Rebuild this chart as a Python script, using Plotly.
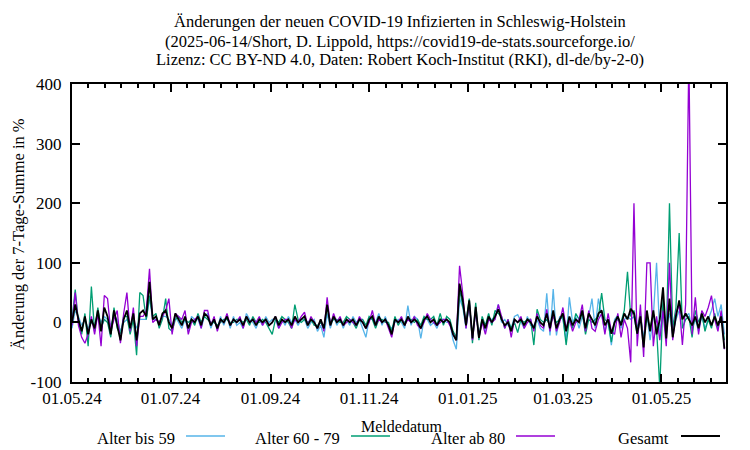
import pandas as pd
import plotly.graph_objects as go

# ---- data: change of 7-day sum in %, every 2nd day starting 2024-05-01 ----
start_date = "2024-05-01"
step = "2D"

gesamt = [
    0, 30, 5, -15, 10, -20, 5, -10, 20, -15,
    25, 10, -20, 20, -5, -30, 5, 20, -10, 15,
    -30, 15, 20, 10, 68, 5, 10, -5, 15, 20,
    0, -10, 15, 5, -5, 10, -10, 5, 0, 10,
    -5, 15, 10, -5, 5, -10, 5, 0, 10, -5,
    5, 0, 5, -5, 10, 0, 5, -5, 5, 0,
    5, -5, 0, 10, -5, 5, 0, 5, -5, 10,
    0, 5, 10, -5, 5, 0, -10, 5, -10, 30,
    -5, 10, 0, 5, -5, 5, 0, 5, -5, 5,
    0, -10, 5, 10, -5, 10, 0, 5, -5, -20,
    5, 0, 5, -5, 10, 0, 5, 0, -10, 5,
    10, 0, 5, -5, 5, 0, 5, 0, -20, -30,
    65, 37, -5, 37, -27, 26, -26, 5, -10, 10,
    0, 10, 22, 5, -5, 0, -15, 5, 0, 5,
    -5, 5, 0, -10, 10, 0, -5, 15, -10, 20,
    -10, 5, 15, -15, 10, -5, 5, 0, 20, -10,
    15, 5, -5, 15, 20, -5, 5, -19, 0, 10,
    -5, 15, 5, 23, 15, -19, 10, -42, 20, -15,
    20, -20, 5, 59, -27, 40, -25, 10, 37, 5,
    15, 5, -5, 10, -10, 15, 0, 10, -5, 10,
    -5, 10, -44,
]

alter_bis_59 = [
    -10, 20, 10, -5, 5, -10, 0, -5, 15, 0,
    10, 5, -5, 10, 5, -15, 0, 5, -5, 5,
    -10, 5, 5, 5, 40, 5, 5, 0, 10, 10,
    5, -5, 10, 0, -10, 5, -15, 10, 5, 5,
    -10, 10, 15, -10, 5, -10, 10, -5, 10, -10,
    10, -5, 0, -10, 15, 5, 0, -10, 5, -5,
    10, 0, 5, 5, -10, 5, -5, 10, 0, 5,
    -5, 5, 5, -10, 0, 5, -15, -5, -25, 15,
    -10, 10, -5, 5, -10, 5, -5, 10, 0, 5,
    -10, -25, 5, 5, 0, 15, -5, 10, -5, -10,
    0, 5, 0, -10, 28, -5, 10, 5, -27, 5,
    5, -5, 0, -10, 5, 5, 0, 0, -30, -45,
    40, 25, -10, 30, -20, 15, -20, 5, -15, 5,
    5, 10, 30, 0, 5, -5, -10, 10, 13, 0,
    -10, 10, -5, -5, 5, -10, -15, 49, -22, 56,
    -22, 10, 5, -30, 42, 0, 10, -10, 10, -5,
    10, 40, -10, 40, 10, -15, 5, -38, 5, 12,
    -10, 5, 10, 5, 10, -20, 5, -25, 15, -30,
    10, 100, -20, 30, -10, 15, -20, 5, 20, 10,
    10, 15, -10, 5, -15, 10, -10, 5, 20, 40,
    10, 30, -20,
]

alter_60_79 = [
    5, 55, 0, -20, 15, -40, 60, -15, 25, -10,
    5, 0, -25, 25, -10, -20, 10, 10, -20, 5,
    -55, 50, 45, 5, 45, 10, 15, -10, 5, 40,
    -10, -15, 5, 10, 0, 5, 0, 5, -5, 15,
    0, 10, 5, 0, 0, -5, 0, 5, 5, 0,
    0, 5, 5, 0, 5, -5, 10, 0, 0, 5,
    0, -10, -20, 5, 0, 10, 5, 0, -10, 30,
    5, 0, 5, 0, 5, -5, -5, 0, -10, 25,
    0, 5, 5, 0, 0, 10, 5, 0, -10, 5,
    5, -5, 10, 5, -10, 5, 5, 0, 0, -15,
    10, -5, 5, 0, 5, 5, 0, 5, -5, 10,
    5, 5, 10, -5, 15, -5, 10, 5, -15, -25,
    55, 30, 0, 40, -35, 33, -30, 10, -5, 15,
    -5, 20, 15, 10, -10, 5, -10, 0, -17, 5,
    0, 5, 5, -38, 22, 5, 0, 5, -5, 10,
    0, 5, 10, -38, 5, -10, 15, 5, 15, -20,
    5, 0, 5, 10, 49, 5, 0, -33, 0, 5,
    0, 20, 85, 10, 20, -10, 15, -30, 10, -10,
    15, -10, -110, 40, -30, 200, -10, 25, 150, -10,
    5, 10, -25, 20, 0, 15, -15, 5, -10, 15,
    -10, 15, -30,
]

alter_ab_80 = [
    -5, 50, -5, -25, -35, -20, 10, -20, 15, -40,
    45, 40, -15, 5, 20, -35, 15, 50, -15, 25,
    -40, 10, 10, 20, 90, 0, 5, 0, 10, 20,
    40, -20, 15, 10, 5, 20, -20, 0, 5, 10,
    -10, 20, 20, -5, 10, -15, 5, 0, 15, -5,
    5, 0, 10, -10, 10, 0, 5, 0, 10, -5,
    5, -5, 0, 10, -10, 0, 5, 5, -10, 5,
    0, 10, 17, -5, 10, 0, -10, 5, -15, 42,
    -5, 15, 0, 10, -5, 0, 5, 0, -5, 10,
    0, -10, 0, 20, -5, 5, 0, 5, -10, -25,
    5, 0, 10, -5, 5, 0, 10, -5, -10, 0,
    15, 5, 0, -5, 0, 5, 5, -5, -20, -30,
    95, 48, -10, 35, -30, 20, -25, 0, -20, 5,
    0, 5, 30, 10, -10, 5, -25, 5, 0, 10,
    -10, 0, 5, -15, 15, -5, -10, 22, -15, 15,
    -15, 0, 25, -10, 5, -15, 0, 5, 30, -15,
    20, -10, -15, 5, 15, -20, 15, -15, -20, 15,
    -25, 5, -10, -67, 200, -40, 30, -58, 100, 100,
    -40, 10, -30, 20, -40, 100, -30, 15, 30, -38,
    30, 450, -20, 42, -20, 20, 10, 25, 45, 5,
    -15, 20, -45,
]

series = [
    ("Alter bis 59", alter_bis_59, "#56b4e9", 1.3),
    ("Alter 60 - 79", alter_60_79, "#009e73", 1.3),
    ("Alter ab 80", alter_ab_80, "#9400d3", 1.3),
    ("Gesamt", gesamt, "#000000", 1.8),
]

title_lines = [
    "Änderungen der neuen COVID-19 Infizierten in Schleswig-Holstein",
    "(2025-06-14/Short, D. Lippold, https://covid19-de-stats.sourceforge.io/",
    "Lizenz: CC BY-ND 4.0, Daten: Robert Koch-Institut (RKI), dl-de/by-2-0)",
]
x_title = "Meldedatum"
y_title = "Änderung der 7-Tage-Summe in %"

major_dates = ["2024-05-01", "2024-07-01", "2024-09-01", "2024-11-01",
               "2025-01-01", "2025-03-01", "2025-05-01", "2025-07-01"]
y_ticks = [-100, 0, 100, 200, 300, 400]
y_tick_labels = ["-100", "0", "100", "200", "300", "400"]

dates = pd.date_range(start_date, periods=len(gesamt), freq=step)

# minor ticks: each 2-month interval split into 6 parts
md = pd.to_datetime(major_dates)
minor = []
for a, b in zip(md[:-1], md[1:]):
    for k in range(1, 6):
        minor.append(a + (b - a) * k / 6)

FONT = "Liberation Serif"
fig = go.Figure()
for name, vals, col, w in series:
    fig.add_trace(go.Scatter(x=dates, y=vals, mode="lines", name=name,
                             line=dict(color=col, width=w), showlegend=False))

# page body adds an 8px margin; figure sized so the plot lands at 72..726 x 84..382
fig.update_layout(
    width=742, height=442,
    margin=dict(l=64, r=24, t=76, b=68),
    paper_bgcolor="white", plot_bgcolor="white",
    font=dict(family=FONT, size=17, color="black"),
)
fig.update_xaxes(
    range=["2024-05-01", "2025-06-10"], automargin=False,
    tickmode="array", tickvals=md, tickformat="%d.%m.%y",
    ticks="inside", ticklen=8, tickwidth=1.5, tickcolor="black",
    tickfont=dict(family=FONT, size=17),
    showline=True, linecolor="black", linewidth=2, mirror="ticks",
    showgrid=False, zeroline=False,
    minor=dict(tickmode="array", tickvals=minor, ticks="inside", ticklen=4,
               tickwidth=1.5, tickcolor="black", showgrid=False),
)
fig.update_yaxes(
    range=[-100, 400], tickmode="array", tickvals=y_ticks, ticktext=y_tick_labels,
    automargin=False, ticklabelstandoff=5,
    ticks="inside", ticklen=8, tickwidth=1.5, tickcolor="black",
    tickfont=dict(family=FONT, size=17),
    showline=True, linecolor="black", linewidth=2, mirror="ticks",
    showgrid=False, zeroline=False,
)

def px(xp):
    return (xp - 72) / 654.0
def py(yp):
    return (382 - yp) / 298.0

# title lines
for line, yc in zip(title_lines, [22, 41, 60]):
    fig.add_annotation(text=line, xref="paper", yref="paper", x=px(400), y=py(yc),
                       xanchor="center", yanchor="middle", showarrow=False,
                       font=dict(family=FONT, size=16.5))
# axis titles
fig.add_annotation(text=x_title, xref="paper", yref="paper", x=px(401), y=py(426),
                   xanchor="center", yanchor="middle", showarrow=False,
                   font=dict(family=FONT, size=16))
fig.add_annotation(text=y_title, xref="paper", yref="paper", x=px(18), y=py(234),
                   xanchor="center", yanchor="middle", showarrow=False, textangle=-90,
                   font=dict(family=FONT, size=16.5))

# gnuplot-style key: text followed by line sample
key_text_right = [177, 342, 507, 671]
key_line = [(186, 225), (351, 390), (516, 555), (681, 720)]
for (name, vals, col, w), tr, (l0, l1) in zip(series, key_text_right, key_line):
    fig.add_annotation(text=name, xref="paper", yref="paper", x=px(tr), y=py(438),
                       xanchor="right", yanchor="middle", showarrow=False,
                       font=dict(family=FONT, size=16.5))
    fig.add_shape(type="line", xref="paper", yref="paper",
                  x0=px(l0), x1=px(l1), y0=py(436), y1=py(436),
                  line=dict(color=col, width=w))

fig.write_html("out.html")
